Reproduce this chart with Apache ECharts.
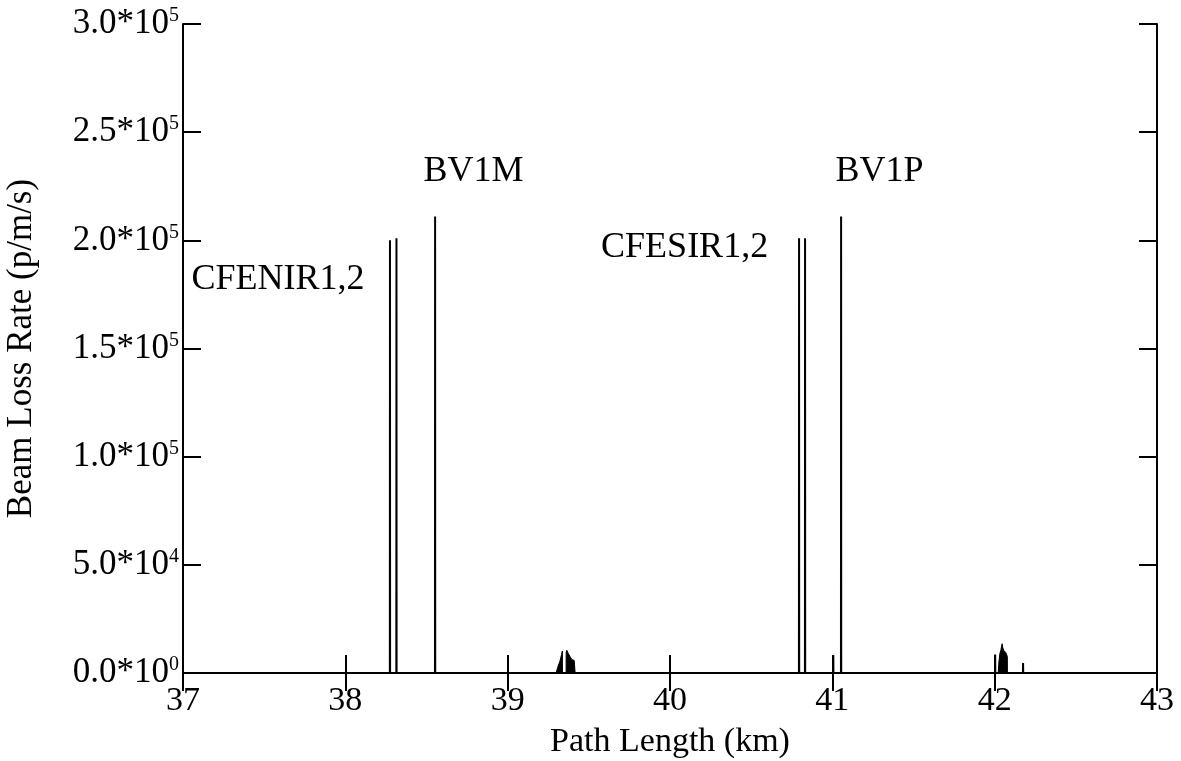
<!DOCTYPE html>
<html>
<head>
<meta charset="utf-8">
<script src="https://cdn.jsdelivr.net/npm/echarts@6.0.0/dist/echarts.min.js"></script>
<style>
  html, body { margin: 0; padding: 0; background: #fff; }
  #chart { width: 1181px; height: 761px; }
</style>
</head>
<body>
<div id="chart"></div>
<script>
// Axis ranges / ticks
const xTicks = [37, 38, 39, 40, 41, 42, 43];
const yTicks = [0, 50000, 100000, 150000, 200000, 250000, 300000];

// Narrow loss spikes: position (km) and peak loss rate (p/m/s)
const spikeKm   = [38.275, 38.315, 38.553, 40.795, 40.832, 41.006, 41.054, 42.003, 42.175];
const spikeRate = [200000, 201000, 211000, 201000, 201000, 8300, 211000, 8500, 4600];

// Distributed loss near 39.35 km
const bumpAKm   = [39.298, 39.310, 39.322, 39.332, 39.337, 39.3375, 39.360, 39.3605, 39.364, 39.375, 39.385, 39.395, 39.410, 39.415, 39.4155];
const bumpARate = [0, 3000, 5500, 8500, 10200, 0, 0, 9500, 10500, 8800, 7500, 6200, 5800, 5800, 0];

// Distributed loss near 42.05 km
const bumpBKm   = [42.022, 42.026, 42.032, 42.038, 42.043, 42.046, 42.049, 42.055, 42.062, 42.068, 42.074, 42.078, 42.0785];
const bumpBRate = [0, 5000, 9000, 10500, 12500, 13500, 12000, 10500, 10000, 9500, 8500, 7500, 0];

// Element annotations
const tagNames = ['BV1M', 'BV1P', 'CFENIR1,2', 'CFESIR1,2'];
const tagKm    = [38.79, 41.29, 37.585, 40.09];
const tagRate  = [231600, 231600, 181700, 196500];

const FONT = 'Liberation Serif';

// Spike line: flat baseline with a thin peak at each spike position
const spikeLine = [[37, 0]];
spikeKm.forEach((x, i) => {
  spikeLine.push([x - 0.0008, 0], [x, spikeRate[i]], [x + 0.0008, 0]);
});
spikeLine.push([43, 0]);

const zip = (xs, ys) => xs.map((x, i) => [x, ys[i]]);

function sci(v) {
  if (v === 0) return '{m|0.0*10}{e|0}';
  const e = Math.floor(Math.log10(v) + 1e-9);
  const m = v / Math.pow(10, e);
  return '{m|' + m.toFixed(1) + '*10}{e|' + e + '}';
}

const chart = echarts.init(document.getElementById('chart'));
const axisLine = { lineStyle: { color: '#000', width: 2 } };
const tick = { inside: true, length: 18, lineStyle: { color: '#000', width: 2 } };

chart.setOption({
  animation: false,
  backgroundColor: '#fff',
  grid: { left: 183, right: 24, top: 24, bottom: 88, outerBoundsMode: 'none', containLabel: false },
  xAxis: [{
    type: 'value', min: 37, max: 43, interval: 1, position: 'bottom',
    name: 'Path Length (km)', nameLocation: 'middle', nameGap: 52,
    nameTextStyle: { fontFamily: FONT, fontSize: 34, color: '#000' },
    axisLine, axisTick: tick, splitLine: { show: false },
    axisLabel: { fontFamily: FONT, fontSize: 34, color: '#000', margin: 11 }
  }, {
    type: 'value', min: 37, max: 43, interval: 1, position: 'top',
    axisLine, axisTick: tick, splitLine: { show: false }, axisLabel: { show: false }
  }],
  yAxis: [{
    type: 'value', min: 0, max: 300000, interval: 50000, position: 'left',
    name: 'Beam Loss Rate (p/m/s)', nameLocation: 'middle', nameGap: 144,
    nameTextStyle: { fontFamily: FONT, fontSize: 35, color: '#000' },
    axisLine, axisTick: tick, splitLine: { show: false },
    axisLabel: {
      margin: 4, formatter: sci,
      rich: {
        m: { fontFamily: FONT, fontSize: 35, color: '#000' },
        e: { fontFamily: FONT, fontSize: 20, color: '#000', padding: [0, 0, 16, 0] }
      }
    }
  }, {
    type: 'value', min: 0, max: 300000, interval: 50000, position: 'right',
    axisLine, axisTick: tick, splitLine: { show: false }, axisLabel: { show: false }
  }],
  series: [
    {
      type: 'line', data: spikeLine, symbol: 'none',
      lineStyle: { color: '#000', width: 2 }, z: 3
    },
    {
      type: 'line', data: zip(bumpAKm, bumpARate), symbol: 'none',
      lineStyle: { color: '#000', width: 1 }, areaStyle: { color: '#000', opacity: 1 }
    },
    {
      type: 'line', data: zip(bumpBKm, bumpBRate), symbol: 'none',
      lineStyle: { color: '#000', width: 1 }, areaStyle: { color: '#000', opacity: 1 }
    },
    {
      type: 'scatter', symbolSize: 0, silent: true,
      itemStyle: { color: '#000' },
      data: tagNames.map((n, i) => ({ name: n, value: [tagKm[i], tagRate[i]] })),
      label: {
        show: true, position: 'inside', formatter: '{b}',
        fontFamily: FONT, fontSize: 36, color: '#000',
        textBorderWidth: 0, opacity: 1
      }
    }
  ]
});
</script>
</body>
</html>
